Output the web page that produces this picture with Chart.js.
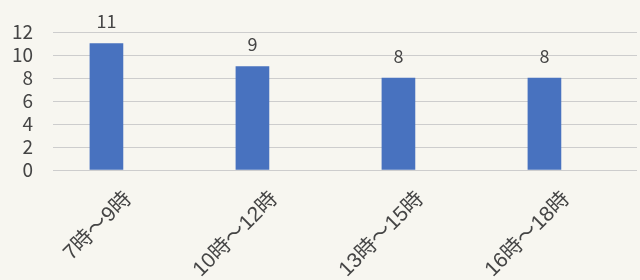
<!DOCTYPE html>
<html>
<head>
<meta charset="utf-8">
<script src="https://cdn.jsdelivr.net/npm/chart.js@4"></script>
<style>
  html, body { margin: 0; padding: 0; background: #f7f6f0; }
  #wrap { width: 640px; height: 280px; }
</style>
</head>
<body>
<div id="wrap"><canvas id="c" width="640" height="280"></canvas></div>
<script>
const categories = ['7時〜9時', '10時〜12時', '13時〜15時', '16時〜18時'];
const counts = [11, 9, 8, 8];
const yTicks = [0, 2, 4, 6, 8, 10, 12];

const FONT = '"Noto Sans CJK JP", "Noto Sans", sans-serif';
const XFONT = '"Liberation Sans", "Noto Sans CJK JP", sans-serif';
const TEXT = '#454545';

const valueLabels = {
  id: 'valueLabels',
  afterDatasetsDraw(chart) {
    const ctx = chart.ctx;
    const meta = chart.getDatasetMeta(0);
    ctx.save();
    ctx.font = '18px ' + FONT;
    ctx.fillStyle = TEXT;
    ctx.textAlign = 'center';
    ctx.textBaseline = 'middle';
    meta.data.forEach((bar, i) => {
      ctx.fillText(String(counts[i]), bar.x, bar.y - 22);
    });
    ctx.restore();
  }
};

new Chart(document.getElementById('c'), {
  type: 'bar',
  data: {
    datasets: [{
      data: counts.map((v, i) => ({ x: i, y: v })),
      backgroundColor: '#4872bf',
      barThickness: 33
    }]
  },
  options: {
    responsive: false,
    animation: false,
    layout: { padding: { top: 32, right: 3, left: 0, bottom: 0 } },
    plugins: { legend: { display: false }, tooltip: { enabled: false } },
    scales: {
      x: {
        type: 'linear',
        offset: false,
        min: -0.366,
        max: 3.634,
        afterBuildTicks(s) { s.ticks = categories.map((_, i) => ({ value: i })); },
        afterFit(s) { s.height = 110; },
        grid: { display: false },
        border: { display: false },
        ticks: {
          autoSkip: false,
          minRotation: 45,
          maxRotation: 45,
          labelOffset: 22,
          padding: 9,
          color: TEXT,
          font: { family: XFONT, size: 21 },
          callback: (v) => categories[v] ?? ''
        }
      },
      y: {
        min: 0,
        max: 12,
        afterBuildTicks(s) { s.ticks = yTicks.map(v => ({ value: v })); },
        afterFit(s) { s.width = 53; },
        grid: { color: '#cdcdcd', lineWidth: 1, drawTicks: false },
        border: { display: false },
        ticks: {
          autoSkip: false,
          padding: 20,
          color: TEXT,
          font: { family: FONT, size: 19 }
        }
      }
    }
  },
  plugins: [valueLabels]
});
</script>
</body>
</html>
